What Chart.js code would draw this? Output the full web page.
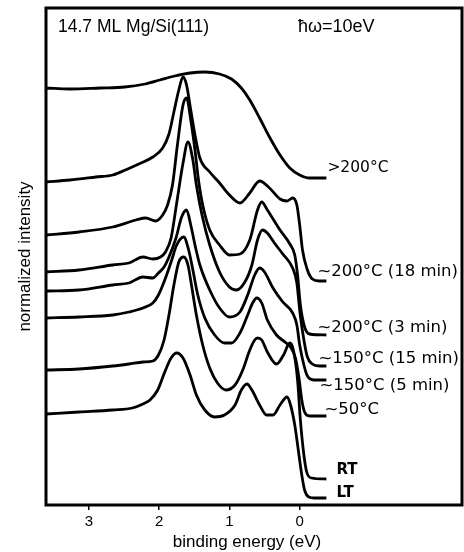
<!DOCTYPE html>
<html><head><meta charset="utf-8">
<script src="https://cdn.jsdelivr.net/npm/chart.js@4.4.1/dist/chart.umd.min.js"></script>
<style>html,body{margin:0;padding:0;background:#fff;}#wrap{width:464px;height:552px;}</style>
</head><body><div id="wrap"><canvas id="c" width="464" height="552"></canvas></div>
<script>
// ---- data (binding energy eV, normalized intensity arb. units) ----
const tickValues = [3, 2, 1, 0];
const curveLabels = ['>200°C', '~200°C (18 min)', '~200°C (3 min)', '~150°C (15 min)', '~150°C (5 min)', '~50°C', 'RT', 'LT'];
const headerLeft = '14.7 ML Mg/Si(111)';
const headerRight = 'ħω=10eV';
const xTitle = 'binding energy (eV)';
const yTitle = 'normalized intensity';

const sGT200 = [[3.61,4.17],[3.27,4.16],[2.84,4.17],[2.49,4.18],[2.20,4.21],[1.99,4.25],[1.78,4.29],[1.56,4.32],[1.35,4.33],[1.14,4.31],[0.97,4.26],[0.83,4.17],[0.71,4.05],[0.57,3.87],[0.43,3.68],[0.28,3.50],[0.14,3.37],[0,3.30],[-0.14,3.27],[-0.38,3.27]];
const s200_18 = [[3.61,3.23],[3.27,3.25],[2.90,3.28],[2.66,3.30],[2.48,3.35],[2.29,3.41],[2.09,3.48],[1.95,3.57],[1.86,3.71],[1.79,3.93],[1.72,4.15],[1.66,4.28],[1.61,4.20],[1.55,3.95],[1.49,3.70],[1.42,3.47],[1.28,3.33],[1.14,3.22],[1.00,3.10],[0.85,3.02],[0.71,3.12],[0.57,3.24],[0.43,3.17],[0.28,3.06],[0.18,3.04],[0.10,3.07],[0.04,3.00],[0,2.80],[-0.04,2.55],[-0.11,2.35],[-0.18,2.26],[-0.28,2.24],[-0.38,2.24]];
const s200_3 = [[3.61,2.70],[3.14,2.73],[2.66,2.78],[2.33,2.85],[2.19,2.87],[2.05,2.84],[1.95,2.90],[1.88,3.00],[1.81,3.20],[1.74,3.60],[1.66,4.00],[1.61,4.07],[1.55,3.85],[1.49,3.55],[1.44,3.25],[1.38,3.00],[1.28,2.75],[1.14,2.60],[1.00,2.50],[0.85,2.51],[0.71,2.65],[0.60,2.95],[0.54,3.03],[0.46,2.95],[0.28,2.75],[0.14,2.61],[0.07,2.50],[0.03,2.30],[-0.01,2.00],[-0.07,1.78],[-0.14,1.71],[-0.38,1.70]];
const s150_15 = [[3.61,2.33],[3.14,2.35],[2.66,2.40],[2.43,2.42],[2.23,2.48],[2.09,2.46],[1.98,2.48],[1.91,2.53],[1.83,2.67],[1.75,3.02],[1.66,3.42],[1.59,3.63],[1.52,3.45],[1.47,3.20],[1.39,2.90],[1.28,2.60],[1.14,2.33],[1.00,2.18],[0.90,2.15],[0.78,2.23],[0.68,2.40],[0.60,2.65],[0.53,2.75],[0.46,2.72],[0.36,2.62],[0.24,2.51],[0.10,2.37],[0.04,2.22],[0,1.95],[-0.06,1.65],[-0.11,1.48],[-0.18,1.41],[-0.28,1.39],[-0.38,1.39]];
const s150_5 = [[3.61,2.14],[3.14,2.15],[2.66,2.20],[2.43,2.22],[2.23,2.28],[2.09,2.27],[2.01,2.32],[1.93,2.38],[1.86,2.48],[1.76,2.67],[1.68,2.88],[1.61,2.95],[1.55,2.80],[1.49,2.60],[1.42,2.40],[1.28,2.15],[1.14,1.97],[1.00,1.88],[0.85,1.93],[0.74,2.10],[0.64,2.30],[0.57,2.37],[0.50,2.33],[0.38,2.17],[0.24,2.03],[0.10,1.92],[0.04,1.80],[0,1.60],[-0.06,1.40],[-0.11,1.29],[-0.21,1.25],[-0.38,1.25]];
const s50 = [[3.61,1.87],[3.14,1.88],[2.66,1.90],[2.43,1.93],[2.23,1.97],[2.09,2.02],[2.01,2.10],[1.92,2.25],[1.83,2.43],[1.75,2.60],[1.65,2.68],[1.58,2.55],[1.52,2.35],[1.45,2.10],[1.35,1.87],[1.21,1.70],[1.07,1.62],[0.97,1.62],[0.85,1.72],[0.74,1.90],[0.67,2.02],[0.61,2.07],[0.54,2.02],[0.46,1.85],[0.33,1.70],[0.21,1.63],[0.13,1.58],[0.06,1.47],[0.01,1.27],[-0.03,1.05],[-0.07,0.93],[-0.14,0.89],[-0.38,0.89]];
const sRT = [[3.61,1.35],[3.14,1.36],[2.66,1.39],[2.43,1.41],[2.23,1.43],[2.09,1.44],[2.01,1.50],[1.93,1.65],[1.86,1.90],[1.79,2.20],[1.72,2.43],[1.65,2.48],[1.59,2.40],[1.54,2.20],[1.47,1.90],[1.38,1.60],[1.28,1.37],[1.17,1.22],[1.05,1.15],[0.92,1.20],[0.81,1.35],[0.71,1.55],[0.64,1.65],[0.60,1.67],[0.54,1.65],[0.46,1.53],[0.33,1.41],[0.23,1.50],[0.14,1.62],[0.09,1.55],[0.03,1.25],[-0.01,0.85],[-0.06,0.50],[-0.10,0.33],[-0.17,0.27],[-0.38,0.26]];
const sLT = [[3.61,0.91],[3.14,0.93],[2.66,0.95],[2.38,0.97],[2.23,1.01],[2.13,1.05],[2.02,1.15],[1.92,1.33],[1.83,1.47],[1.75,1.52],[1.66,1.47],[1.56,1.30],[1.47,1.10],[1.35,0.95],[1.21,0.88],[1.07,0.90],[0.92,1.00],[0.83,1.15],[0.75,1.21],[0.68,1.15],[0.57,1.00],[0.47,0.90],[0.38,0.90],[0.28,1.00],[0.18,1.08],[0.13,1.00],[0.07,0.80],[0.01,0.50],[-0.03,0.30],[-0.07,0.15],[-0.13,0.08],[-0.21,0.07],[-0.38,0.07]];

const allSeries = [sGT200, s200_18, s200_3, s150_15, s150_5, s50, sRT, sLT];

// ---- layout / style (not data) ----
const labelOffsets = [[1,-10],[-9,-9],[-9,-7],[-8,-7],[-7,6],[-2,-6],[10,-9],[10,-5]];

const overlay = {
  id: 'overlay',
  afterDraw(chart) {
    const ctx = chart.ctx, a = chart.chartArea;
    const xs = chart.scales.x, ys = chart.scales.y;
    ctx.save();
    ctx.strokeStyle = '#000'; ctx.lineWidth = 3;
    ctx.strokeRect(a.left, a.top, a.right - a.left, a.bottom - a.top);
    ctx.fillStyle = '#000';
    ctx.textBaseline = 'middle'; ctx.textAlign = 'left';
    allSeries.forEach((s, i) => {
      const last = s[s.length - 1];
      const px = xs.getPixelForValue(last[0]) + labelOffsets[i][0];
      const py = ys.getPixelForValue(last[1]) + labelOffsets[i][1];
      ctx.font = (i >= 6 ? 'bold 15px' : (i === 0 ? '15.5px' : '16.5px')) + ' "DejaVu Sans"';
      ctx.fillText(curveLabels[i], px, py);
    });
    ctx.font = '17.5px "Liberation Sans", Arial';
    ctx.fillText(headerLeft, 58, 27);
    ctx.font = '18px "Liberation Sans", Arial';
    ctx.fillText(headerRight, 298, 27);
    ctx.textAlign = 'center';
    ctx.font = '17px "Liberation Sans", Arial';
    ctx.fillText(xTitle, 247, 542);
    ctx.restore();
  }
};

new Chart(document.getElementById('c'), {
  type: 'line',
  data: {
    datasets: allSeries.map((s, i) => ({
      label: curveLabels[i],
      data: s.map(p => ({x: p[0], y: p[1]})),
      borderColor: '#000', borderWidth: 2.8, pointRadius: 0,
      cubicInterpolationMode: 'monotone', fill: false
    }))
  },
  options: {
    responsive: false, animation: false, devicePixelRatio: 1,
    layout: {padding: {top: 8, right: 2, left: 0, bottom: 0}},
    plugins: {legend: {display: false}, tooltip: {enabled: false}},
    scales: {
      x: {
        type: 'linear', reverse: true, min: -2.31, max: 3.61,
        afterBuildTicks: sc => { sc.ticks = tickValues.map(v => ({value: v})); },
        afterFit: sc => { sc.height = 47; },
        grid: {display: true, drawOnChartArea: false, drawTicks: true, tickLength: 5, color: '#000', lineWidth: 1.5},
        border: {display: false},
        ticks: {color: '#000', font: {family: '"Liberation Sans", Arial', size: 15}, padding: 3, maxRotation: 0, autoSkip: false},
        title: {display: false}
      },
      y: {
        type: 'linear', min: 0, max: 4.97,
        afterFit: sc => { sc.width = 46; },
        grid: {display: false}, border: {display: false},
        ticks: {display: false},
        title: {display: true, text: yTitle, color: '#000', font: {family: '"Liberation Sans", Arial', size: 17}, padding: {top: 15, bottom: 0}}
      }
    }
  },
  plugins: [overlay]
});
</script></body></html>
